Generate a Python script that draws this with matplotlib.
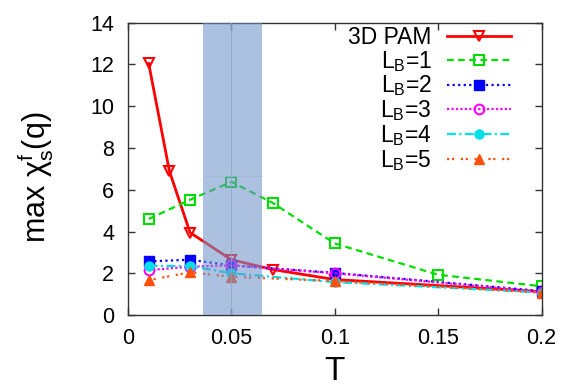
import matplotlib
matplotlib.use("Agg")
import matplotlib.pyplot as plt

plt.rcParams['font.family'] = ['Liberation Sans', 'DejaVu Sans']
plt.rcParams['mathtext.fontset'] = 'custom'
plt.rcParams['mathtext.rm'] = 'Liberation Sans'
plt.rcParams['mathtext.it'] = 'Liberation Sans:italic'
plt.rcParams['mathtext.bf'] = 'Liberation Sans:bold'

# Data
T_pam = [0.01, 0.02, 0.03, 0.05, 0.07, 0.1, 0.2]
chi_pam = [12.05, 6.9, 3.95, 2.65, 2.18, 1.7, 1.12]

T_lb1 = [0.01, 0.03, 0.05, 0.07, 0.1, 0.15, 0.2]
chi_lb1 = [4.6, 5.52, 6.38, 5.37, 3.43, 1.93, 1.38]

T_lb = [0.01, 0.03, 0.05, 0.1, 0.2]
chi_lb2 = [2.57, 2.65, 2.38, 2.02, 1.15]
chi_lb3 = [2.15, 2.32, 2.38, 2.0, 1.12]
chi_lb4 = [2.35, 2.35, 2.0, 1.58, 1.08]
chi_lb5 = [1.67, 2.05, 1.83, 1.63, 1.08]

band = (0.0363, 0.065)
xticks = [0, 0.05, 0.1, 0.15, 0.2]
xticklabels = ['0', '0.05', '0.1', '0.15', '0.2']
yticks = [0, 2, 4, 6, 8, 10, 12, 14]

fig = plt.figure(figsize=(5.72, 3.88), dpi=100)
ax = fig.add_axes([0.2238, 0.188, 0.7229, 0.7535])

ax.plot(T_pam, chi_pam, color='#ff0000', lw=2.0, ls='-', marker='v', ms=7.5,
        mfc='none', mew=1.5, label='3D PAM')
ax.plot(T_lb1, chi_lb1, color='#00dd00', lw=1.6, ls=(0, (3, 2)), marker='s', ms=7,
        mfc='none', mew=1.5, label=r'L$_\mathrm{B}$=1')
ax.plot(T_lb, chi_lb2, color='#0000ff', lw=1.6, ls=(0, (1, 1.5)), marker='s', ms=6.5,
        label=r'L$_\mathrm{B}$=2')
ax.plot(T_lb, chi_lb3, color='#ff00ff', lw=1.6, ls=(0, (1, 1)), marker='o', ms=7,
        mfc='none', mew=1.5, label=r'L$_\mathrm{B}$=3')
ax.plot(T_lb, chi_lb4, color='#00e0e8', lw=1.6, ls=(0, (4, 1.5, 1, 1.5)), marker='o', ms=6.5,
        label=r'L$_\mathrm{B}$=4')
ax.plot(T_lb, chi_lb5, color='#ff5010', lw=1.6, ls=(0, (1, 1.2, 1, 3)), marker='^', ms=7.5,
        label=r'L$_\mathrm{B}$=5')

ax.axvspan(band[0], band[1], color='#7094ca', alpha=0.58, lw=0, zorder=5)
ax.plot([0.05, 0.05], [0, 14], color='#8aa4cf', lw=0.5, zorder=6)
ax.plot([band[0], band[1]], [6.65, 6.65], color='#a3b8da', lw=0.5, zorder=6)

ax.set_xlim(0, 0.2)
ax.set_ylim(0, 14)
ax.set_xticks(xticks)
ax.set_xticklabels(xticklabels)
ax.set_yticks(yticks)
ax.tick_params(direction='in', length=5, width=1, top=True, right=True,
               labelsize=15.5, color='#333333')
ax.tick_params(axis='y', pad=10)
ax.tick_params(axis='x', pad=9)
for s in ax.spines.values():
    s.set_color('#333333')
    s.set_linewidth(1)

ax.set_xlabel('T', fontsize=24, labelpad=5)
ax.set_ylabel(r'max χ$^{\mathrm{f}}_{\mathrm{s}}$(q)', fontsize=22)
ax.yaxis.set_label_coords(-0.175, 0.47)

leg = ax.legend(loc='upper right', markerfirst=False, frameon=False,
                fontsize=16.5, handlelength=2.8, labelspacing=0.0,
                handletextpad=0.65, borderaxespad=0.0, borderpad=0.0,
                bbox_to_anchor=(0.926, 0.99))
leg.set_zorder(10)

fig.savefig('out.png', dpi=100)
